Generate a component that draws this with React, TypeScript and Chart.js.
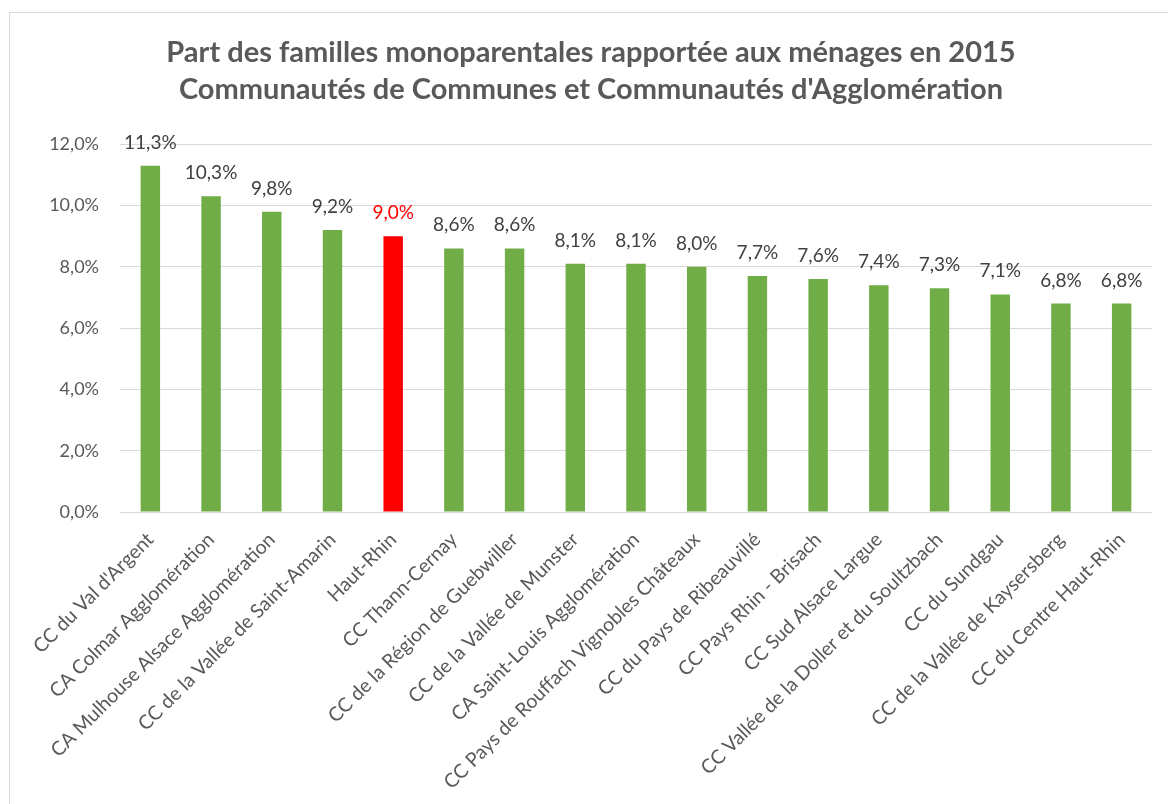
import React, { useEffect, useRef } from "react";
import { Chart, registerables } from "chart.js";

Chart.register(...registerables);

const titleLines = [
  "Part des familles monoparentales rapportée aux ménages en 2015",
  "Communautés de Communes et Communautés d'Agglomération",
];

const categories = [
  "CC du Val d'Argent",
  "CA Colmar Agglomération",
  "CA Mulhouse Alsace Agglomération",
  "CC de la Vallée de Saint-Amarin",
  "Haut-Rhin",
  "CC Thann-Cernay",
  "CC de la Région de Guebwiller",
  "CC de la Vallée de Munster",
  "CA Saint-Louis Agglomération",
  "CC Pays de Rouffach Vignobles Châteaux",
  "CC du Pays de Ribeauvillé",
  "CC Pays Rhin - Brisach",
  "CC Sud Alsace Largue",
  "CC Vallée de la Doller et du Soultzbach",
  "CC du Sundgau",
  "CC de la Vallée de Kaysersberg",
  "CC du Centre Haut-Rhin",
];

const values = [11.3, 10.3, 9.8, 9.2, 9.0, 8.6, 8.6, 8.1, 8.1, 8.0, 7.7, 7.6, 7.4, 7.3, 7.1, 6.8, 6.8];

const highlighted = "Haut-Rhin";

const yTicks = { min: 0, max: 12, step: 2 };

const GREEN = "#70AD47";
const RED = "#FF0000";
const FONT = "Lato, 'Open Sans', sans-serif";

const fmt = (v: number) => v.toFixed(1).replace(".", ",") + "%";

const dataLabelPlugin = {
  id: "dataLabels",
  afterDatasetsDraw(chart: any) {
    const ctx = chart.ctx;
    const meta = chart.getDatasetMeta(0);
    ctx.save();
    ctx.font = `19px ${FONT}`;
    ctx.textAlign = "center";
    ctx.textBaseline = "alphabetic";
    meta.data.forEach((bar: any, i: number) => {
      ctx.fillStyle = categories[i] === highlighted ? RED : "#404040";
      ctx.fillText(fmt(values[i]), bar.x, bar.y - 17);
    });
    ctx.restore();
  },
};

export default function App() {
  const ref = useRef<HTMLCanvasElement | null>(null);

  useEffect(() => {
    if (!ref.current) return;
    const chart = new Chart(ref.current, {
      type: "bar",
      data: {
        labels: categories,
        datasets: [
          {
            data: values,
            backgroundColor: categories.map((c) => (c === highlighted ? RED : GREEN)),
            barPercentage: 0.32,
            categoryPercentage: 1,
          },
        ],
      },
      plugins: [dataLabelPlugin],
      options: {
        responsive: false,
        animation: false,
        layout: { padding: { left: 30, right: 16, top: 0, bottom: 0 } },
        plugins: {
          legend: { display: false },
          tooltip: { enabled: false },
          title: {
            display: true,
            text: titleLines,
            color: "#595959",
            font: { family: FONT, size: 29, weight: "bold", lineHeight: 1.28 },
            padding: { top: 34, bottom: 36 },
          },
        },
        scales: {
          x: {
            grid: { display: false },
            border: { display: false },
            ticks: {
              autoSkip: false,
              minRotation: 45,
              maxRotation: 45,
              color: "#595959",
              font: { family: FONT, size: 19.5 },
              padding: 8,
            },
            afterFit(scale: any) {
              scale.height = 292;
            },
          },
          y: {
            min: yTicks.min,
            max: yTicks.max,
            grid: { color: "#d9d9d9", lineWidth: 1, drawTicks: false },
            border: { display: false },
            ticks: {
              stepSize: yTicks.step,
              color: "#595959",
              font: { family: FONT, size: 18 },
              padding: 21,
              callback: (v: any) => fmt(Number(v)),
            },
            afterFit(scale: any) {
              scale.width = 90;
            },
          },
        },
      },
    });
    return () => chart.destroy();
  }, []);

  return (
    <div style={{ position: "absolute", left: 0, top: 0, width: 1168, height: 804, background: "#fff", overflow: "hidden" }}>
      <div
        style={{
          position: "absolute",
          left: 9,
          top: 12,
          width: 1200,
          height: 900,
          borderLeft: "1px solid #d9d9d9",
          borderTop: "1px solid #d9d9d9",
        }}
      />
      <canvas ref={ref} width={1168} height={804} style={{ position: "absolute", left: 0, top: 0 }} />
    </div>
  );
}
